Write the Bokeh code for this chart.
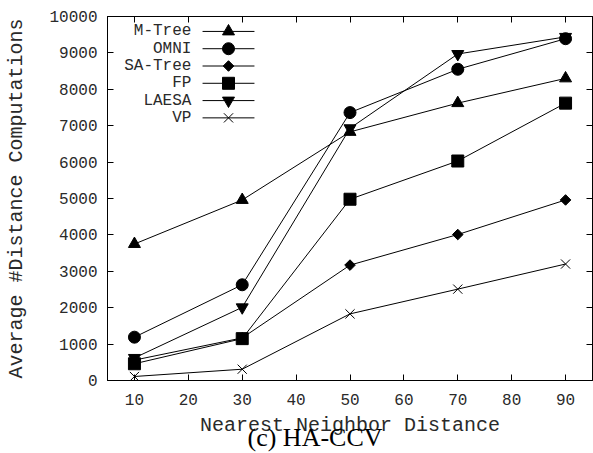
import math

from bokeh.plotting import figure
from bokeh.models import LinearAxis, FixedTicker, Title
from bokeh.core.properties import value
from bokeh.embed import file_html
from bokeh.resources import INLINE

# Nearest neighbor distance (x) and average number of distance computations per method
distance = [10, 30, 50, 70, 90]
mtree = [3750, 4960, 6830, 7620, 8300]
omni = [1190, 2630, 7360, 8550, 9390]
satree = [560, 1170, 3170, 4010, 4960]
fp = [460, 1150, 4980, 6030, 7620]
laesa = [620, 2010, 6930, 8970, 9440]
vp = [110, 310, 1830, 2510, 3200]

x_ticks = [10, 20, 30, 40, 50, 60, 70, 80, 90]
y_ticks = [0, 1000, 2000, 3000, 4000, 5000, 6000, 7000, 8000, 9000, 10000]

# name, values, marker, size, rotation
series = [
    ("M-Tree", mtree, "triangle", 12, 0.0),
    ("OMNI", omni, "circle", 12, 0.0),
    ("SA-Tree", satree, "square", 7.5, math.pi / 4),
    ("FP", fp, "square", 12, 0.0),
    ("LAESA", laesa, "inverted_triangle", 12, 0.0),
    ("VP", vp, "x", 13, 0.0),
]

MONO = "Liberation Mono"
TEXT = "#2a2a2a"
X0, X1 = 5, 95
Y0, Y1 = 0, 10000

p = figure(width=593, height=453, x_range=(X0, X1), y_range=(Y0, Y1),
           output_backend="svg", toolbar_location=None,
           min_border_left=107, min_border_top=16, min_border_right=1,
           min_border_bottom=73)
p.grid.visible = False
p.outline_line_color = "black"
p.outline_line_width = 1
p.background_fill_color = "white"
p.border_fill_color = "white"


def style_axis(ax, ticks, labels=True):
    ax.ticker = FixedTicker(ticks=ticks)
    ax.major_tick_in = 6
    ax.major_tick_out = 0
    ax.minor_tick_in = 0
    ax.minor_tick_out = 0
    ax.axis_line_color = "black"
    ax.major_tick_line_color = "black"
    ax.major_label_text_font = MONO
    ax.major_label_text_color = TEXT
    if labels:
        ax.major_label_text_font_size = "16px"
    else:
        ax.major_label_text_font_size = "0px"
        ax.major_label_standoff = 0
        ax.major_label_text_alpha = 0


style_axis(p.xaxis[0], x_ticks)
style_axis(p.yaxis[0], y_ticks)
p.xaxis.major_label_standoff = 13
p.yaxis.major_label_standoff = 10

p.xaxis.axis_label = "Nearest Neighbor Distance"
p.yaxis.axis_label = "Average #Distance Computations"
for ax in (p.xaxis[0], p.yaxis[0]):
    ax.axis_label_text_font = MONO
    ax.axis_label_text_font_size = "20px"
    ax.axis_label_text_font_style = "normal"
    ax.axis_label_text_color = TEXT
p.xaxis.axis_label_standoff = 6
p.yaxis.axis_label_standoff = 18

# mirrored ticks on the top and right edges
top_axis = LinearAxis()
style_axis(top_axis, x_ticks, labels=False)
p.add_layout(top_axis, "above")
right_axis = LinearAxis()
style_axis(right_axis, y_ticks, labels=False)
p.add_layout(right_axis, "right")

# panel caption tucked right under the axis title
caption = Title(text="(c) HA-CCV", align="left", offset=140, vertical_align="top",
                text_font="Liberation Serif", text_font_size="26px",
                text_font_style="normal", text_color="black", standoff=-34)
p.add_layout(caption, "below")

# series
for name, vals, marker, size, rot in series:
    p.line(distance, vals, line_color="black", line_width=1)
    p.scatter(distance, vals, marker=marker, size=size, angle=rot,
              fill_color="black", line_color="black", line_width=1)

# key in the upper-left corner: label on the left, sample line with marker on the right
dx = (X1 - X0)
dy = (Y1 - Y0)
key_label_x = X0 + 0.173 * dx
key_line_x0 = X0 + 0.196 * dx
key_line_x1 = X0 + 0.303 * dx
key_mark_x = (key_line_x0 + key_line_x1) / 2
key_top = Y0 + 0.959 * dy
key_step = 0.0475 * dy

for i, (name, vals, marker, size, rot) in enumerate(series):
    ky = key_top - i * key_step
    p.line([key_line_x0, key_line_x1], [ky, ky], line_color="black", line_width=1)
    p.scatter([key_mark_x], [ky], marker=marker, size=size, angle=rot,
              fill_color="black", line_color="black", line_width=1)
    p.text([key_label_x], [ky], text=[name], text_font=value(MONO),
           text_font_size="16px", text_align="right", text_baseline="middle",
           text_color=TEXT)

open("out.html", "w").write(file_html(p, INLINE))
